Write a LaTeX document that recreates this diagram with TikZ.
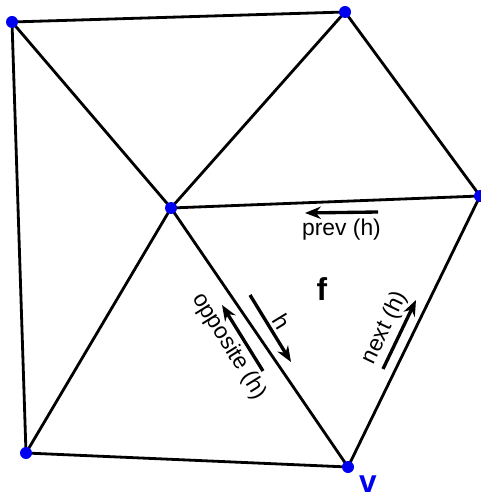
\documentclass[tikz,border=0pt]{standalone}
\usepackage{fontspec}
\setmainfont{Liberation Sans}
\usepackage{tikz}
\usetikzlibrary{arrows.meta, calc}
\definecolor{vblue}{RGB}{0,0,240}
\tikzstyle{edge} = [line width=1.6pt, line join=round]
\tikzstyle{vert} = [circle, fill=vblue, inner sep=0pt, minimum size=2.4mm]
\tikzstyle{arrow} = [line width=1.9pt, -{Stealth[length=9pt, width=7pt]}]
\tikzstyle{lbl} = [font=\fontsize{13}{15}\selectfont, inner sep=2pt]

\begin{document}
\begin{tikzpicture}
  \useasboundingbox (0,0) rectangle (9.6,-10);
  % vertices of the mesh
  \coordinate (tl) at (0.24,-0.44);
  \coordinate (tr) at (6.90,-0.24);
  \coordinate (c) at (3.42,-4.16);
  \coordinate (r) at (9.60,-3.92);
  \coordinate (bl) at (0.52,-9.06);
  \coordinate (v) at (6.96,-9.34);

  \draw[edge] (tl) -- (tr) -- (r) -- (v) -- (bl) -- cycle;
  \draw[edge] (tl) -- (c) -- (tr);
  \draw[edge] (c) -- (r);
  \draw[edge] (c) -- (v);
  \draw[edge] (c) -- (bl);

  \foreach \p in {tl, tr, c, r, bl, v}
    \node[vert] at (\p) {};

  % half-edge arrows
  \coordinate (p1) at (7.56,-4.24);
  \coordinate (p2) at (6.10,-4.26);
  \coordinate (h1) at (5.00,-5.90);
  \coordinate (h2) at (5.82,-7.24);
  \coordinate (o1) at (5.26,-7.42);
  \coordinate (o2) at (4.44,-6.10);
  \coordinate (n1) at (7.66,-7.38);
  \coordinate (n2) at (8.32,-6.00);

  \draw[arrow] (p1) -- node[lbl, below=1pt] {prev (h)} (p2);
  \draw[arrow] (h1) -- node[lbl, sloped, above] {h} (h2);
  \draw[arrow] (o1) -- node[lbl, sloped, below] {opposite (h)} (o2);
  \draw[arrow] (n1) -- node[lbl, sloped, above] {next (h)} (n2);

  \node[font=\fontsize{18}{21}\selectfont\bfseries] (f) at (6.44,-5.78) {f};
  \node[font=\fontsize{18}{21}\selectfont\bfseries, text=vblue, inner sep=0pt, anchor=base] (vl) at (7.36,-9.84) {v};
\end{tikzpicture}
\end{document}
